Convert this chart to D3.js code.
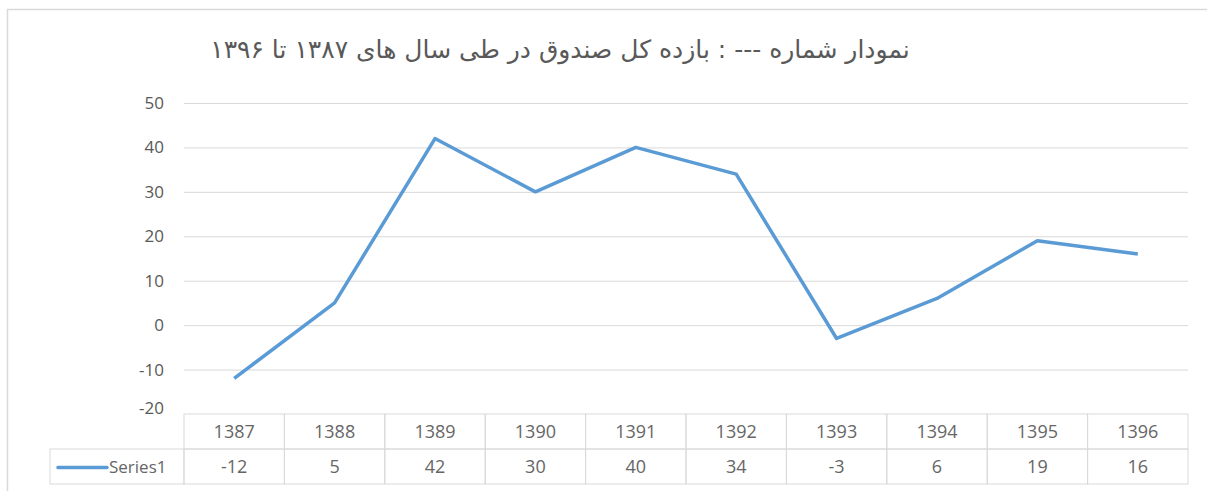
<!DOCTYPE html>
<html>
<head>
<meta charset="utf-8">
<script src="https://cdn.jsdelivr.net/npm/d3@7"></script>
<style>
  body { margin: 0; background: #fff; }
  svg { display: block; }
</style>
</head>
<body>
<div id="chart"></div>
<script>
// data
var years = ["1387","1388","1389","1390","1391","1392","1393","1394","1395","1396"];
var values = [-12, 5, 42, 30, 40, 34, -3, 6, 19, 16];
var yTicks = [-20, -10, 0, 10, 20, 30, 40, 50];
var seriesName = "Series1";
var title = "نمودار شماره --- : بازده کل صندوق در طی سال های ۱۳۸۷ تا ۱۳۹۶";

var W = 1207, H = 491;
var plot = {left: 184, right: 1188, top: 103, bottom: 414};
var rowH = 35;
var labelFont = "'Open Sans', 'Noto Sans', sans-serif";

var svg = d3.select("#chart")
  .append("svg")
  .attr("width", W)
  .attr("height", H);

// frame
svg.append("rect")
  .attr("x", 7.5).attr("y", 9.5)
  .attr("width", W + 10).attr("height", H + 10)
  .attr("fill", "none")
  .attr("stroke", "#d9d9d9")
  .attr("stroke-width", 1.5);

// title
svg.append("text")
  .attr("x", 560)
  .attr("y", 58)
  .attr("text-anchor", "middle")
  .attr("direction", "rtl")
  .style("font-family", "'DejaVu Sans', sans-serif")
  .style("font-size", "25px")
  .style("fill", "#595959")
  .text(title);

// scales
var x = d3.scaleBand()
  .domain(years)
  .range([plot.left, plot.right]);

var y = d3.scaleLinear()
  .domain([-20, 50])
  .range([plot.bottom, plot.top]);

// gridlines + y labels
var yAxis = d3.axisLeft(y)
  .tickValues(yTicks)
  .tickFormat(function(d) { return String(d); })
  .tickSize(-(plot.right - plot.left))
  .tickPadding(20);

var gy = svg.append("g")
  .attr("transform", "translate(" + plot.left + ",0)")
  .call(yAxis);

gy.select(".domain").remove();
gy.selectAll(".tick line")
  .attr("stroke", "#d9d9d9")
  .attr("stroke-width", 1);
gy.selectAll(".tick text")
  .style("font-family", labelFont)
  .style("font-size", "17px")
  .style("fill", "#595959");
// bottom gridline is the table top
gy.selectAll(".tick").filter(function(d) { return d === -20; })
  .select("line").remove();
gy.selectAll(".tick").filter(function(d) { return d === -20; })
  .select("text").attr("dy", "-0.05em");

// line
var line = d3.line()
  .x(function(d, i) { return x(years[i]) + x.bandwidth() / 2; })
  .y(function(d) { return y(d); });

svg.append("path")
  .datum(values)
  .attr("d", line)
  .attr("fill", "none")
  .attr("stroke", "#5b9bd5")
  .attr("stroke-width", 3.5)
  .attr("stroke-linejoin", "round");

// data table
var tbl = svg.append("g");
var gridColor = "#d9d9d9";
var legendLeft = 50;
var tTop = plot.bottom;

// header row (years)
tbl.selectAll(".hcell")
  .data(years)
  .enter()
  .append("rect")
    .attr("x", function(d) { return x(d); })
    .attr("y", tTop)
    .attr("width", x.bandwidth())
    .attr("height", rowH)
    .attr("fill", "none")
    .attr("stroke", gridColor);

tbl.selectAll(".htext")
  .data(years)
  .enter()
  .append("text")
    .attr("x", function(d) { return x(d) + x.bandwidth() / 2; })
    .attr("y", tTop + rowH / 2 + 6)
    .attr("text-anchor", "middle")
    .style("font-family", labelFont)
    .style("font-size", "18px")
    .style("fill", "#666")
    .text(function(d) { return d; });

// value row
tbl.selectAll(".vcell")
  .data(values)
  .enter()
  .append("rect")
    .attr("x", function(d, i) { return x(years[i]); })
    .attr("y", tTop + rowH)
    .attr("width", x.bandwidth())
    .attr("height", rowH)
    .attr("fill", "none")
    .attr("stroke", gridColor);

tbl.selectAll(".vtext")
  .data(values)
  .enter()
  .append("text")
    .attr("x", function(d, i) { return x(years[i]) + x.bandwidth() / 2; })
    .attr("y", tTop + rowH + rowH / 2 + 6)
    .attr("text-anchor", "middle")
    .style("font-family", labelFont)
    .style("font-size", "18px")
    .style("fill", "#666")
    .text(function(d) { return String(d); });

// legend cell
tbl.append("rect")
  .attr("x", legendLeft)
  .attr("y", tTop + rowH)
  .attr("width", plot.left - legendLeft)
  .attr("height", rowH)
  .attr("fill", "none")
  .attr("stroke", gridColor);

tbl.append("line")
  .attr("x1", 58).attr("x2", 107)
  .attr("y1", tTop + rowH * 1.5 + 1)
  .attr("y2", tTop + rowH * 1.5 + 1)
  .attr("stroke", "#5b9bd5")
  .attr("stroke-width", 3.5)
  .attr("stroke-linecap", "round");

tbl.append("text")
  .attr("x", 109)
  .attr("y", tTop + rowH * 1.5 + 6)
  .style("font-family", labelFont)
  .style("font-size", "17px")
  .style("fill", "#666")
  .text(seriesName);
</script>
</body>
</html>
